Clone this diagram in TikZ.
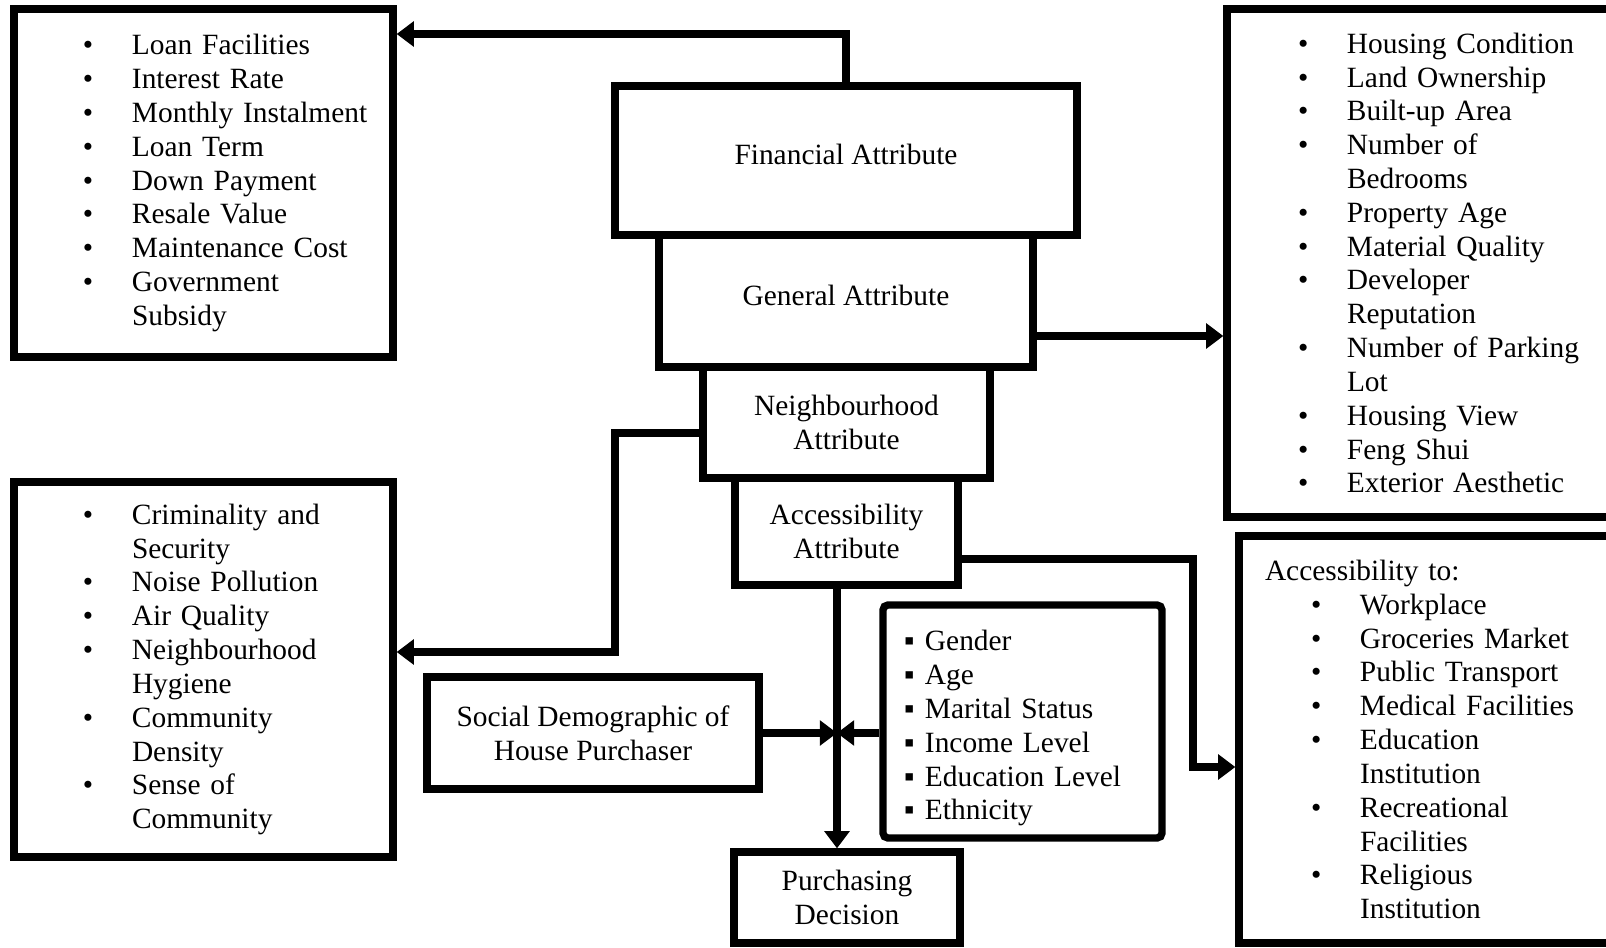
\documentclass[tikz,border=0pt]{standalone}
\usepackage{fontspec}
\setmainfont{Liberation Serif}
\usetikzlibrary{arrows.meta}

\newlength\pxl
\setlength\pxl{0.408pt}
\newcommand{\bul}[1]{\makebox[49\pxl][l]{\textbullet}#1}
\newcommand{\cont}[1]{\hspace*{49\pxl}#1}
\newcommand{\sqb}[1]{\makebox[21\pxl][l]{▪}#1}

\tikzset{
  box/.style={draw, line width=3pt, fill=white, inner sep=0pt, align=center,
    font=\fontsize{12}{13.8}\selectfont},
  listbox/.style={box, align=left, text width=#1, minimum width=#1},
  arr/.style={line width=3pt, -{Triangle[length=7pt,width=10pt]}},
}

\begin{document}
\begin{tikzpicture}[x=\pxl,y=-\pxl]%,>=latex]
\useasboundingbox (0,0) rectangle (1606,947);

\node[box, minimum width=374\pxl, minimum height=132\pxl, text depth=12\pxl] (gen) at (846,301) {General Attribute};
\node[box, minimum width=462\pxl, minimum height=149\pxl, text depth=12\pxl] (fin) at (846,160.5) {Financial Attribute};
\node[box, minimum width=287\pxl, minimum height=111\pxl] (nbh) at (846.5,422.5) {Neighbourhood\\Attribute};
\node[box, minimum width=223\pxl, minimum height=107\pxl] (acc) at (846.5,531.5) {Accessibility\\Attribute};
\node[box, minimum width=226\pxl, minimum height=91\pxl] (pur) at (847,897.5) {Purchasing\\Decision};
\node[box, minimum width=332\pxl, minimum height=112\pxl] (soc) at (593,733) {Social Demographic of\\House Purchaser};

\node[listbox=379\pxl, minimum height=348\pxl] (finlist) at (203.5,183) {\leftskip=69\pxl
  \bul{Loan Facilities}\\
  \bul{Interest Rate}\\
  \bul{Monthly Instalment}\\
  \bul{Loan Term}\\
  \bul{Down Payment}\\
  \bul{Resale Value}\\
  \bul{Maintenance Cost}\\
  \bul{Government}\\
  \cont{Subsidy}\par};

\node[listbox=433\pxl, minimum height=508\pxl] (genlist) at (1443.5,263) {\leftskip=71\pxl
  \bul{Housing Condition}\\
  \bul{Land Ownership}\\
  \bul{Built-up Area}\\
  \bul{Number of}\\
  \cont{Bedrooms}\\
  \bul{Property Age}\\
  \bul{Material Quality}\\
  \bul{Developer}\\
  \cont{Reputation}\\
  \bul{Number of Parking}\\
  \cont{Lot}\\
  \bul{Housing View}\\
  \bul{Feng Shui}\\
  \bul{Exterior Aesthetic}\par};

\node[listbox=379\pxl, minimum height=375\pxl] (nbhlist) at (203.5,669.5) {\leftskip=69\pxl
  \bul{Criminality and}\\
  \cont{Security}\\
  \bul{Noise Pollution}\\
  \bul{Air Quality}\\
  \bul{Neighbourhood}\\
  \cont{Hygiene}\\
  \bul{Community}\\
  \cont{Density}\\
  \bul{Sense of}\\
  \cont{Community}\par};

\node[listbox=421\pxl, minimum height=407\pxl] (acclist) at (1449.5,739.5) {\leftskip=26\pxl
  Accessibility to:\\
  \hspace*{46\pxl}\bul{Workplace}\\
  \hspace*{46\pxl}\bul{Groceries Market}\\
  \hspace*{46\pxl}\bul{Public Transport}\\
  \hspace*{46\pxl}\bul{Medical Facilities}\\
  \hspace*{46\pxl}\bul{Education}\\
  \hspace*{46\pxl}\cont{Institution}\\
  \hspace*{46\pxl}\bul{Recreational}\\
  \hspace*{46\pxl}\cont{Facilities}\\
  \hspace*{46\pxl}\bul{Religious}\\
  \hspace*{46\pxl}\cont{Institution}\par};

\node[listbox=279\pxl, minimum height=233\pxl, rounded corners=2pt] (dem) at (1022.5,721.5) {\leftskip=21\pxl
  \sqb{Gender}\rule{0pt}{34\pxl}\\
  \sqb{Age}\\
  \sqb{Marital Status}\\
  \sqb{Income Level}\\
  \sqb{Education Level}\\
  \sqb{Ethnicity}\par};

\coordinate (c1) at (846,34);
\coordinate (c2) at (1100,336);
\coordinate (c3) at (615,433);
\coordinate (c4) at (615,652);
\coordinate (c5) at (1193,559);
\coordinate (c6) at (1193,767);
\coordinate (mid) at (837,733);

\draw[arr] (fin.north) -- (c1) -- (c1 -| finlist.east);
\draw[arr] (c2 -| gen.east) -- (c2 -| genlist.west);
\draw[arr] (c3 -| nbh.west) -- (c3) -- (c4) -- (c4 -| nbhlist.east);
\draw[arr] (c5 -| acc.east) -- (c5) -- (c6) -- (c6 -| acclist.west);
\draw[arr] (mid |- acc.south) -- (mid |- pur.north);
\draw[arr] (soc.east |- mid) -- (mid);
\draw[arr] (dem.west |- mid) -- (mid);

\end{tikzpicture}
\end{document}
